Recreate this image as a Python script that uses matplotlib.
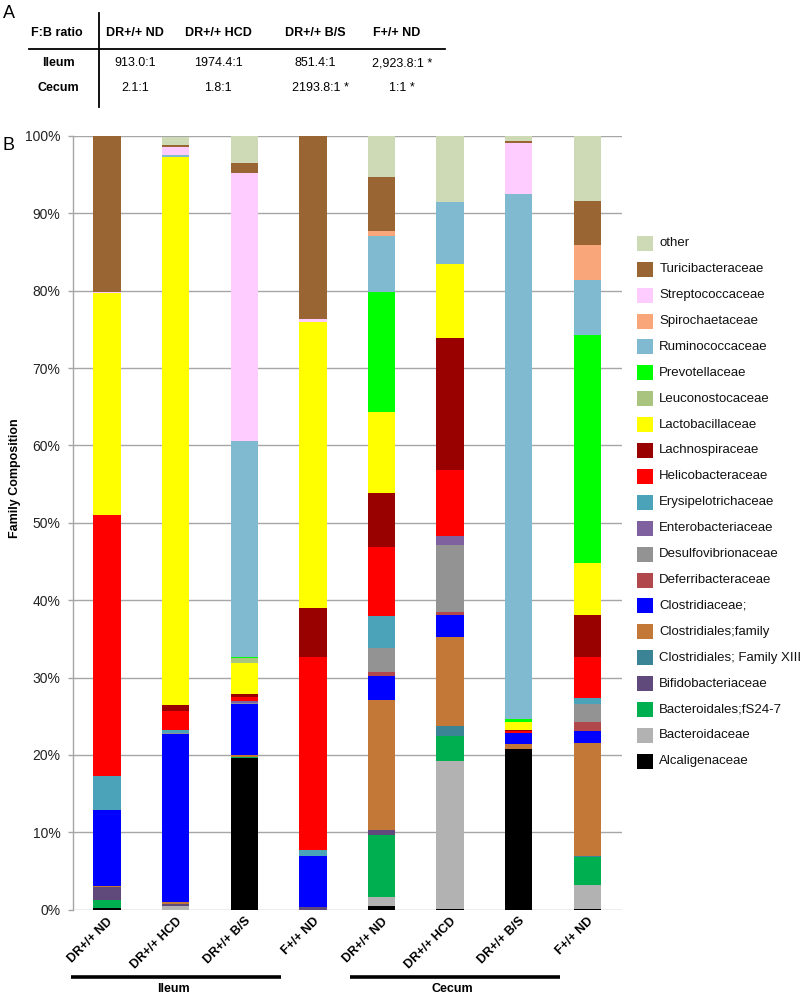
import numpy as np
import matplotlib
matplotlib.use('Agg')
import matplotlib.pyplot as plt
from matplotlib.patches import Rectangle
from matplotlib.lines import Line2D

plt.rcParams['font.family'] = ['Liberation Sans', 'DejaVu Sans']

# ---------------- data ----------------
samples = ['DR+/+ ND', 'DR+/+ HCD', 'DR+/+ B/S', 'F+/+ ND',
           'DR+/+ ND', 'DR+/+ HCD', 'DR+/+ B/S', 'F+/+ ND']
groups = ['Ileum', 'Cecum']

table_cols = ['DR+/+ ND', 'DR+/+ HCD', 'DR+/+ B/S', 'F+/+ ND']
table_rows = ['Ileum', 'Cecum']
ileum_ratio = ['913.0:1', '1974.4:1', '851.4:1', '2,923.8:1 *']
cecum_ratio = ['2.1:1', '1.8:1', '2193.8:1 *', '1:1 *']

# families listed bottom -> top of each stacked bar
families = ['Alcaligenaceae', 'Bacteroidaceae', 'Bacteroidales;fS24-7',
            'Bifidobacteriaceae', 'Clostridiales; Family XIII',
            'Clostridiales;family', 'Clostridiaceae;', 'Deferribacteraceae',
            'Desulfovibrionaceae', 'Enterobacteriaceae', 'Erysipelotrichaceae',
            'Helicobacteraceae', 'Lachnospiraceae', 'Lactobacillaceae',
            'Leuconostocaceae', 'Prevotellaceae', 'Ruminococcaceae',
            'Spirochaetaceae', 'Streptococcaceae', 'Turicibacteraceae', 'other']

colors = ['#000000', '#B2B2B2', '#00B050', '#604A7B', '#3A8496',
          '#C47838', '#0000FF', '#B0484C', '#939393', '#7F619F', '#4BA3BA',
          '#FF0000', '#990000', '#FFFF00', '#A9C47F', '#00FF00', '#7FBAD0',
          '#F9A77A', '#FFCCFF', '#996633', '#CDDAB5']

alcaligenaceae    = [0.2, 0.0, 19.6, 0.0, 0.45, 0.1, 20.8, 0.1]
bacteroidaceae    = [0.0, 0.5, 0.0, 0.0, 1.25, 19.1, 0.0, 3.1]
fs24_7            = [1.05, 0.0, 0.15, 0.0, 8.0, 3.25, 0.0, 3.65]
bifidobacteriaceae = [1.65, 0.3, 0.0, 0.35, 0.65, 0.0, 0.0, 0.0]
clost_fam_xiii    = [0.0, 0.0, 0.0, 0.0, 0.0, 1.35, 0.0, 0.1]
clost_family      = [0.1, 0.25, 0.25, 0.0, 16.8, 11.5, 0.65, 14.55]
clostridiaceae    = [9.85, 21.7, 6.55, 6.55, 3.0, 2.75, 1.35, 1.55]
deferribacteraceae = [0.0, 0.0, 0.1, 0.0, 0.6, 0.4, 0.0, 1.15]
desulfovibrionaceae = [0.0, 0.15, 0.1, 0.0, 3.05, 8.75, 0.0, 2.4]
enterobacteriaceae = [0.0, 0.0, 0.2, 0.0, 0.0, 1.05, 0.0, 0.0]
erysipelotrichaceae = [4.4, 0.3, 0.0, 0.8, 4.2, 0.0, 0.0, 0.8]
helicobacteraceae = [33.7, 2.5, 0.55, 24.9, 8.85, 8.6, 0.25, 5.3]
lachnospiraceae   = [0.1, 0.8, 0.35, 6.45, 6.95, 17.0, 0.2, 5.35]
lactobacillaceae  = [28.6, 70.8, 4.05, 36.95, 10.5, 9.65, 0.95, 6.8]
leuconostocaceae  = [0.0, 0.0, 0.6, 0.0, 0.0, 0.0, 0.0, 0.0]
prevotellaceae    = [0.0, 0.0, 0.2, 0.0, 15.55, 0.0, 0.4, 29.4]
ruminococcaceae   = [0.0, 0.3, 27.9, 0.0, 7.2, 7.95, 67.95, 7.1]
spirochaetaceae   = [0.0, 0.0, 0.0, 0.0, 0.65, 0.0, 0.0, 4.5]
streptococcaceae  = [0.2, 1.0, 34.6, 0.3, 0.0, 0.0, 6.6, 0.0]
turicibacteraceae = [20.15, 0.3, 1.3, 23.7, 7.0, 0.0, 0.2, 5.8]
other             = [0.0, 1.0, 3.55, 0.05, 5.3, 8.6, 0.6, 8.4]

values = [alcaligenaceae, bacteroidaceae, fs24_7, bifidobacteriaceae,
          clost_fam_xiii, clost_family, clostridiaceae, deferribacteraceae,
          desulfovibrionaceae, enterobacteriaceae, erysipelotrichaceae,
          helicobacteraceae, lachnospiraceae, lactobacillaceae,
          leuconostocaceae, prevotellaceae, ruminococcaceae, spirochaetaceae,
          streptococcaceae, turicibacteraceae, other]

# ---------------- layout helpers ----------------
W, H = 800, 998
fig = plt.figure(figsize=(W / 100, H / 100), dpi=100)


def fx(px):
    return px / W


def fy(py):
    return 1 - py / H


# ---------------- panel A: table ----------------
fig.text(fx(3), fy(13), 'A', fontsize=13, ha='left', va='center')
col_x = [135, 218, 315, 397]
fig.text(fx(57), fy(33), 'F:B ratio', fontsize=9, fontweight='bold', ha='center', va='center')
for cx, name in zip(col_x, table_cols):
    fig.text(fx(cx), fy(33), name, fontsize=9, fontweight='bold', ha='center', va='center')
for ry, rname, vals in zip([63, 88], table_rows, [ileum_ratio, cecum_ratio]):
    fig.text(fx(58), fy(ry), rname, fontsize=9, fontweight='bold', ha='center', va='center')
    for cx, v in zip(col_x, vals):
        off = 5 if v.endswith('*') else 0
        fig.text(fx(cx + off), fy(ry), v, fontsize=9, ha='center', va='center')
fig.add_artist(Line2D([fx(99), fx(99)], [fy(13), fy(107)], color='black', lw=1.3))
fig.add_artist(Line2D([fx(29), fx(445)], [fy(48.5), fy(48.5)], color='black', lw=1.3))

# ---------------- panel B: stacked bars ----------------
fig.text(fx(3), fy(145), 'B', fontsize=13, ha='left', va='center')

ax = fig.add_axes([fx(72.7), fy(909.7), (621.7 - 72.7) / W, (909.7 - 136) / H])
x = np.arange(len(samples))
bottom = np.zeros(len(samples))
for fam, col, vals in zip(families, colors, values):
    v = np.array(vals)
    ax.bar(x, v, width=0.4, bottom=bottom, color=col, edgecolor='none', label=fam, zorder=3)
    bottom += v

ax.set_xlim(-0.5, 7.5)
ax.set_ylim(0, 100)
ax.set_yticks(np.arange(0, 101, 10))
ax.set_yticklabels([f'{v}%' for v in range(0, 101, 10)], fontsize=10, color='#222222')
ax.yaxis.grid(True, color='#A6A6A6', lw=1.0, zorder=0)
ax.set_axisbelow(True)
for s in ['top', 'right', 'bottom']:
    ax.spines[s].set_visible(False)
ax.spines['left'].set_color('#A6A6A6')
ax.spines['left'].set_linewidth(1.0)
ax.tick_params(axis='y', length=3.4, width=1.0, color='#A6A6A6', pad=5.5)
ax.tick_params(axis='x', length=0, pad=4)
ax.set_xticks(x)
ax.set_xticklabels(samples, rotation=45, ha='right', va='top', rotation_mode='anchor',
                   fontsize=9, fontweight='bold')
for lab in ax.get_xticklabels():
    lab.set_x(0)

fig.text(fx(15), fy(478), 'Family Composition', rotation=90, fontsize=9,
         fontweight='bold', ha='center', va='center')

# group lines / labels
fig.add_artist(Line2D([fx(70.7), fx(280.7)], [fy(976.7)] * 2, color='black', lw=2.6,
                      solid_capstyle='butt'))
fig.add_artist(Line2D([fx(350), fx(560)], [fy(976.7)] * 2, color='black', lw=2.6,
                      solid_capstyle='butt'))
fig.text(fx(173), fy(989), groups[0], fontsize=9, fontweight='bold', ha='center', va='center')
fig.text(fx(452), fy(989), groups[1], fontsize=9, fontweight='bold', ha='center', va='center')

# ---------------- legend (top entry = last family) ----------------
for i, (fam, col) in enumerate(zip(families[::-1], colors[::-1])):
    yc = 243.3 + i * 25.9
    fig.add_artist(Rectangle((fx(637.3), fy(yc + 7.5)), 15.4 / W, 15 / H,
                             transform=fig.transFigure, facecolor=col, edgecolor='none'))
    fig.text(fx(659.3), fy(yc), fam, fontsize=9.5, ha='left', va='center', color='#111111')

fig.savefig('out.png', dpi=100)
